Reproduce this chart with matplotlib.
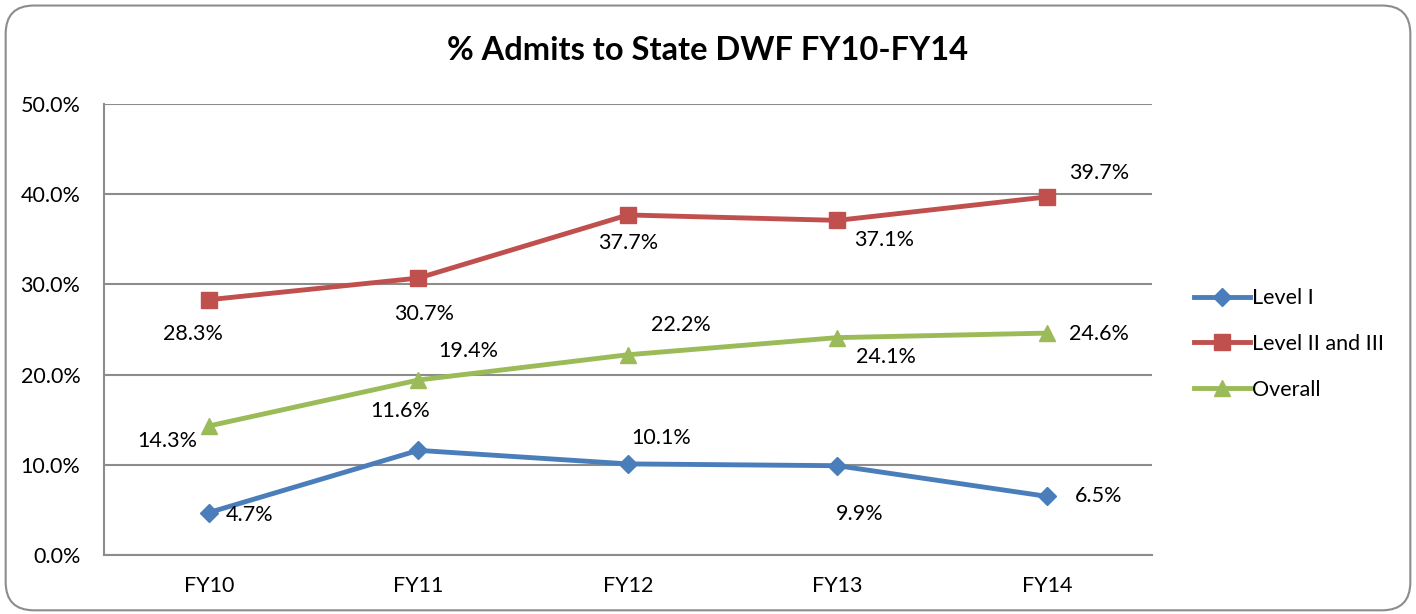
import matplotlib.pyplot as plt
from matplotlib.patches import FancyBboxPatch
from matplotlib.ticker import FuncFormatter

years = ['FY10', 'FY11', 'FY12', 'FY13', 'FY14']
level1 = [4.7, 11.6, 10.1, 9.9, 6.5]
level23 = [28.3, 30.7, 37.7, 37.1, 39.7]
overall = [14.3, 19.4, 22.2, 24.1, 24.6]

plt.rcParams['font.family'] = ['Lato', 'DejaVu Sans']

fig = plt.figure(figsize=(14.16, 6.14), dpi=100)
border = FancyBboxPatch((0.004, 0.006), 0.992, 0.985, boxstyle='round,pad=0,rounding_size=0.02',
                        transform=fig.transFigure, facecolor='none', edgecolor='#8c8c8c',
                        linewidth=1.5, mutation_aspect=1416 / 614, zorder=5)
fig.patches.append(border)

ax = fig.add_axes([0.0734, 0.0961, 0.740, 0.7345])
ax.set_facecolor('none')

x = range(len(years))
ax.plot(x, level1, color='#4A7EBB', lw=3.5, marker='D', ms=9, label='Level I', zorder=3)
ax.plot(x, level23, color='#C0504D', lw=3.5, marker='s', ms=12, label='Level II and III', zorder=3)
ax.plot(x, overall, color='#9BBB59', lw=3.5, marker='^', ms=12, label='Overall', zorder=3)

# label offsets in pixels (dx, dy)
off1 = [(41, -2), (-18, 39), (33, 26), (22, -48), (52, 0)]
off23 = [(-16, -34), (6, -36), (0, -28), (47, -20), (52, 24)]
offov = [(-41, -15), (50, 29), (53, 30), (49, -19), (52, -1)]
for vals, offs in [(level1, off1), (level23, off23), (overall, offov)]:
    for i, (v, o) in enumerate(zip(vals, offs)):
        ax.annotate(f'{v:.1f}%', (i, v), xytext=o, textcoords='offset pixels',
                    ha='center', va='center', fontsize=15.5, color='black')

ax.set_xlim(-0.5, 4.5)
ax.set_ylim(0, 50)
ax.set_yticks(range(0, 51, 10))
ax.yaxis.set_major_formatter(FuncFormatter(lambda v, p: f'{v:.1f}%'))
ax.set_xticks(list(x))
ax.set_xticklabels(years)
ax.tick_params(length=0, labelsize=15.5, pad=15)
ax.tick_params(axis='y', pad=17)
ax.grid(axis='y', color='#8c8c8c', lw=1.5)
for s in ['top', 'right']:
    ax.spines[s].set_visible(False)
for s in ['left', 'bottom']:
    ax.spines[s].set_color('#8c8c8c')
    ax.spines[s].set_linewidth(1.5)

fig.text(0.5, 0.918, '% Admits to State DWF FY10-FY14', ha='center', va='center',
         fontsize=23.5, fontweight='bold')

ax.legend(loc='center left', bbox_to_anchor=(1.022, 0.468), frameon=False, fontsize=15.5,
          handlelength=2.6, labelspacing=1.2, handletextpad=0.1)

fig.savefig('out.png', dpi=100)
